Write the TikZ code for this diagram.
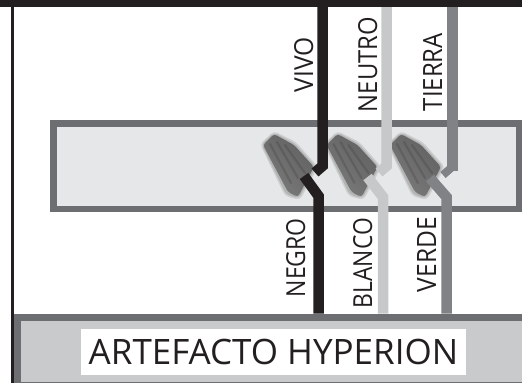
\documentclass[tikz,border=0pt]{standalone}
\usepackage{fontspec}
\usepackage{graphicx}
\setmainfont{Open Sans}
\definecolor{ink}{HTML}{231F20}
\definecolor{band}{HTML}{6D6E71}
\definecolor{strip}{HTML}{E6E7E8}
\definecolor{base}{HTML}{C9CACC}
\definecolor{neutral}{HTML}{C7C8CA}
\definecolor{ground}{HTML}{808285}
\newcommand{\vtxt}[2]{\resizebox{#1pt}{19pt}{#2}}
\tikzset{
  wire/.style={line width=10.5pt,line join=miter,line cap=butt},
  vlabel/.style={rotate=90,anchor=base east,inner sep=0pt,text=ink,font=\fontsize{26}{26}\selectfont},
  rib/.style={line width=2.2pt,opacity=.12,line cap=round},
  nutbody/.pic={
    \fill[black!40,opacity=.30,rounded corners=4pt] (274,131)--(260,144)--(285,196)--(300,200)--(318,167)--(296,142)--cycle;
    \fill[black!45,opacity=.40,rounded corners=4pt] (274,132.5)--(261.5,144.5)--(286,194.5)--(299,198.5)--(316,167)--(295,143.5)--cycle;
    \shade[rounded corners=3pt,left color=black!62,right color=black!52,shading angle=-45] (274,134)--(263,145)--(288,192)--(298,197)--(314,167)--(294,145)--cycle;
    \draw[rib,black] (270,144)--(291,183);
    \draw[rib,black] (277,142)--(298,178);
    \draw[rib,black] (285,145)--(305,173);
  }
}
\begin{document}
\begin{tikzpicture}[x=1pt,y=-1pt]
\useasboundingbox (0,0) rectangle (522,383);
\fill[white] (0,0) rectangle (522,383);
% frame
\fill[ink] (0,0) rectangle (522,7);
\fill[ink] (11,7) rectangle (13.5,383);
% strip
\fill[band] (50,119.5) rectangle (522,212);
\fill[strip] (57,126.5) rectangle (516,205.5);
% base
\fill[band] (13.5,313.5) rectangle (522,383);
\fill[base] (20.5,320.5) rectangle (522,382);
% wire coordinates
\coordinate (bt) at (322.5,7);   \coordinate (bm) at (322.5,166); \coordinate (be) at (315,172.5);
\coordinate (bn) at (304,176);   \coordinate (bk) at (318.5,196); \coordinate (bb) at (318.5,313.5);
\coordinate (nt) at (386.5,7);   \coordinate (nm) at (386.5,166); \coordinate (ne) at (379,172.5);
\coordinate (nn) at (367.5,177); \coordinate (nk) at (383,197);   \coordinate (nb) at (383,313.5);
\coordinate (tt) at (452.5,7);   \coordinate (tm) at (452.5,171);
\coordinate (ts1) at (451,168);  \coordinate (ts2) at (443,175);
\coordinate (tn) at (430,178);   \coordinate (tk) at (446.5,197); \coordinate (tb) at (446.5,313.5);
% nuts
\pic at (0,0) {nutbody};
\pic at (63.5,0) {nutbody};
\pic at (127,0) {nutbody};
% wires
\draw[wire,ink] (bt)--(bm)--(be);
\draw[wire,ink] (bn)--(bk)--(bb);
\draw[wire,neutral] (nt)--(nm)--(ne);
\draw[wire,neutral] (nn)--(nk)--(nb);
\draw[wire,ground] (tt)--(tm);
\draw[wire,ground,line width=8pt] (ts1)--(ts2);
\draw[wire,ground] (tn)--(tk)--(tb);
% labels
\node[vlabel] (vivo) at (313,37) {\vtxt{55}{VIVO}};
\node[vlabel] (neutro) at (377,17) {\vtxt{95}{NEUTRO}};
\node[vlabel] (tierra) at (442,33) {\vtxt{78}{TIERRA}};
\node[vlabel] (negro) at (305,218) {\vtxt{79}{NEGRO}};
\node[vlabel] (blanco) at (372,218) {\vtxt{90}{BLANCO}};
\node[vlabel] (verde) at (436,217) {\vtxt{75}{VERDE}};
% title
\fill[white] (81,329) rectangle (466,375);
\node[inner sep=0,text=ink,font=\fontsize{35}{35}\selectfont] (artefacto) at (273.5,352) {ARTEFACTO HYPERION};
\end{tikzpicture}
\end{document}
